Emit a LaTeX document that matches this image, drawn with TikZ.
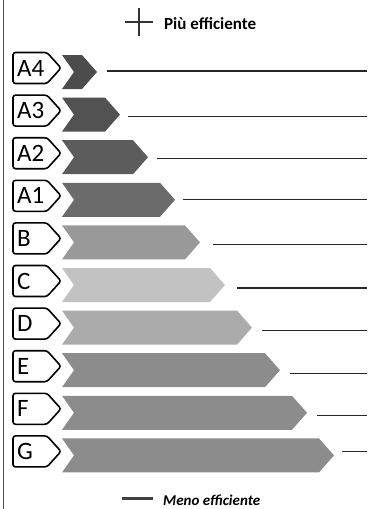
\documentclass[tikz,border=0pt]{standalone}
\usepackage{fontspec}
\setmainfont{Carlito}
\begin{document}
\begin{tikzpicture}[x=1pt,y=-1pt,
  lbl/.style={draw=black, line width=1.6pt, rounded corners=2.5pt, fill=white},
  lvl/.style={line width=1.1pt, draw=black!85},
  lbltext/.style={font=\fontsize{25}{25}\selectfont, anchor=west, inner sep=3pt},
  legendtxt/.style={font=\fontsize{15}{15}\selectfont, anchor=west, inner sep=0pt}]
\useasboundingbox (0,0) rectangle (368,509);
\draw[line width=0.8pt, black!70] (3,0) -- (3,509);
% top legend
\draw[line width=2pt, black!80] (125,22) -- (153,22);
\draw[line width=2pt, black!80] (139,8) -- (139,36);
\node[legendtxt, font=\fontsize{17}{17}\selectfont\bfseries] (piu) at (164,24) {Più efficiente};
% bottom legend
\draw[line width=3pt, black!75] (122,498) -- (153,498);
\node[legendtxt, font=\fontsize{15}{15}\selectfont\itshape\bfseries] (meno) at (163,500) {Meno efficiente};
\foreach \name/\col/\tip/\ls/\off [count=\i from 0] in {
  A4/black!70/97/107/-1,
  A3/black!68/120/128/2,
  A2/black!64/148/157/1,
  A1/black!58/175/183/0,
  B/black!40/200/213/2,
  C/black!24/225/237/3,
  D/black!33/252/262/3,
  E/black!45/280/290/3,
  F/black!45/307/317/3,
  G/black!45/334/342/-4}{
  \pgfmathsetmacro\cy{68+42.6*\i}
  \pgfmathsetmacro\c{\cy+4}
  \draw[lbl] (13,\cy-15.5) -- (47,\cy-15.5) -- (61,\cy) -- (47,\cy+15.5) -- (13,\cy+15.5) -- cycle;
  \node[lbltext] (t\name) at (14,\cy) {\name};
  \fill[\col] (62,\c-17) -- (\tip-15,\c-17) -- (\tip,\c) -- (\tip-15,\c+17) -- (62,\c+17) -- (74,\c) -- cycle;
  \coordinate (s\name) at (\ls,\c+\off);
  \coordinate (e\name) at (367,\c+\off);
  \draw[lvl] (s\name) -- (e\name);
}
\end{tikzpicture}
\end{document}
